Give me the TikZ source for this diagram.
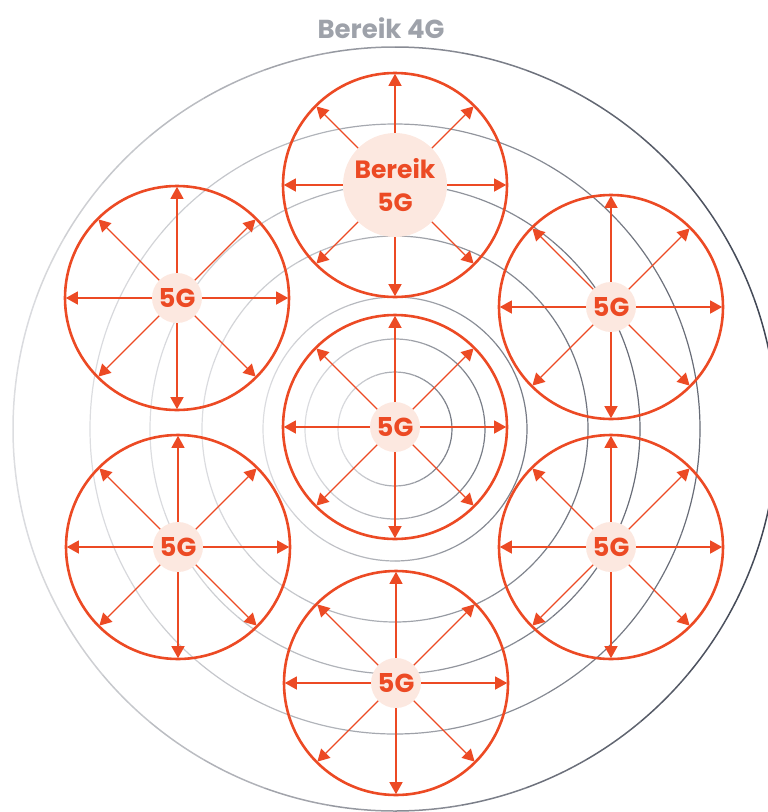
\documentclass[tikz,border=0pt]{standalone}
\usepackage{fontspec}
\setmainfont{Poppins}
\usetikzlibrary{arrows.meta}
\definecolor{fiveg}{RGB}{236,74,36}
\definecolor{fivegfill}{RGB}{252,232,224}
\definecolor{rangelight}{RGB}{220,221,224}
\definecolor{rangedark}{RGB}{62,68,82}
\definecolor{labelgray}{RGB}{158,162,170}

\tikzset{
  cell/.style={circle, draw=fiveg, line width=2.6pt, minimum size=224pt,
               inner sep=0pt, outer sep=0pt},
  mast/.style={circle, fill=fivegfill, text=fiveg, minimum size=50pt, inner sep=0pt,
               font=\bfseries\fontsize{26}{30}\selectfont},
  beam/.style={->, fiveg, line width=1.3pt, shorten >=0.8pt}
}

\begin{document}
\begin{tikzpicture}[x=1pt, y=-1pt, >={Triangle[length=12pt,width=13pt]}]
\useasboundingbox (0,0) rectangle (768,812);
\begin{scope}
\clip (0,0) rectangle (768,812);
% range rings of the 4G mast, light on the left, dark on the right
\coordinate (hub) at (395,429);
\foreach \r/\w/\k in {57/1.2/65,90/1.2/65,132/1.2/65,193/1.2/70,245/1.2/75,305/1.2/75,382/1.5/100}{
  \foreach \a in {0,10,...,350}{
    \pgfmathtruncatemacro\mix{\k*(0.5+0.5*cos(\a+5))}
    \draw[line width=\w pt, draw=rangedark!\mix!rangelight]
      (hub) ++(\a:\r) arc[start angle=\a, end angle=\a+10, radius=\r];
  }
}
\end{scope}

\node[font=\bfseries\fontsize{26}{30}\selectfont, text=labelgray] (range) at (381,28) {Bereik 4G};

% 5G cells
\node[cell] (rc) at (395,427) {};
\node[cell] (rt) at (395,185) {};
\node[cell] (rul) at (177,298) {};
\node[cell] (rur) at (611,307) {};
\node[cell] (rll) at (178,547) {};
\node[cell] (rlr) at (611,547) {};
\node[cell] (rb) at (396,683) {};

\node[mast] (mc) at (rc) {5G};
\node[mast, minimum size=104pt, align=center,
      font=\bfseries\fontsize{25}{33}\selectfont] (mt) at (rt) {Bereik\\5G};
\node[mast] (mul) at (rul) {5G};
\node[mast] (mur) at (rur) {5G};
\node[mast] (mll) at (rll) {5G};
\node[mast] (mlr) at (rlr) {5G};
\node[mast] (mb) at (rb) {5G};

\foreach \c in {c,t,ul,ur,ll,lr,b}
  \foreach \a in {0,45,...,315}
    \draw[beam] (m\c.\a) -- (r\c.\a);
\end{tikzpicture}
\end{document}
